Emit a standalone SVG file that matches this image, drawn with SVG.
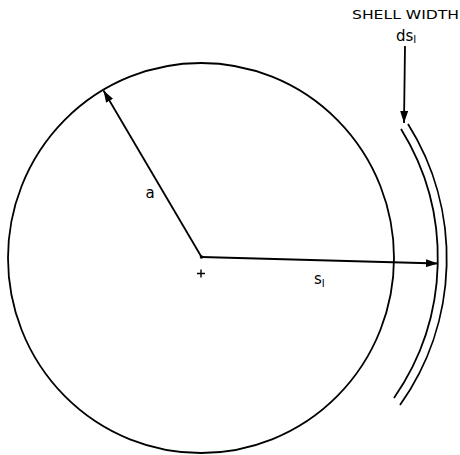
<svg xmlns="http://www.w3.org/2000/svg" width="460" height="455" viewBox="0 0 460 455">
<defs>
<marker id="ah" markerWidth="12" markerHeight="8" refX="12" refY="4" orient="auto" markerUnits="userSpaceOnUse">
<path d="M0,0 L12,4 L0,8 Z" fill="#000"/>
</marker>
</defs>
<style>
.ln{stroke:#000;stroke-width:1.8;fill:none}
.t{font-family:"DejaVu Sans","Liberation Sans",sans-serif;fill:#000}
</style>
<rect width="460" height="455" fill="#fff"/>
<g id="sphere">
<ellipse cx="201" cy="258" rx="193" ry="195" class="ln"/>
<circle cx="201.5" cy="257" r="1.8" fill="#000"/>
<path d="M197,273.5 H205 M201,269.5 V277.5" stroke="#000" stroke-width="1.4"/>
</g>
<g id="shell">
<path d="M401,129 A245,245 0 0 1 394,398" class="ln"/>
<path d="M408,124 A253,253 0 0 1 400,405" class="ln"/>
</g>
<g id="connectors">
<line x1="201.5" y1="257" x2="103.5" y2="90.5" class="ln" marker-end="url(#ah)"/>
<line x1="201.5" y1="257" x2="438" y2="263.5" class="ln" marker-end="url(#ah)"/>
<line x1="405" y1="46" x2="404" y2="123" class="ln" marker-end="url(#ah)"/>
</g>
<g id="labels">
<text class="t" x="150" y="198" font-size="15" text-anchor="middle">a</text>
<text class="t" x="314" y="284" font-size="15">s<tspan font-size="10" dy="3">I</tspan></text>
<text class="t" x="352" y="19" font-size="13" textLength="107" lengthAdjust="spacingAndGlyphs">SHELL WIDTH</text>
<text class="t" x="396" y="41" font-size="15">ds<tspan font-size="10" dy="2">I</tspan></text>
</g>
</svg>
